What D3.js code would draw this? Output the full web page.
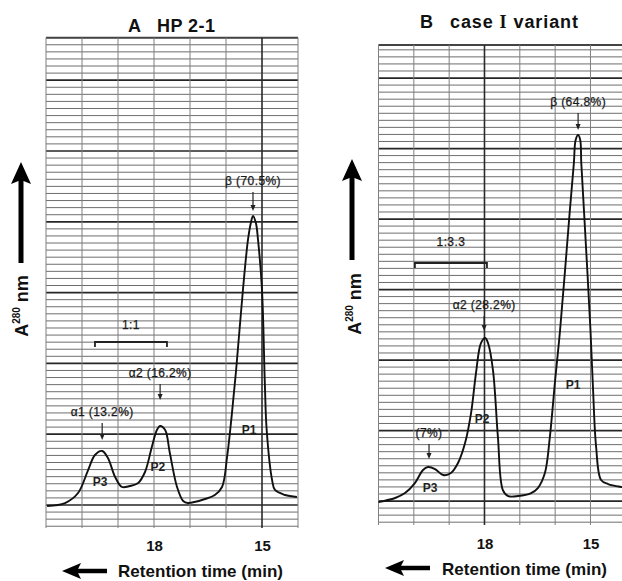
<!DOCTYPE html>
<html><head><meta charset="utf-8">
<script src="https://cdn.jsdelivr.net/npm/d3@7"></script>
<style>
html,body{margin:0;padding:0;background:#fff;}
svg{display:block;font-family:"Liberation Sans",Arial,Helvetica,sans-serif;}
</style></head><body>
<svg id="chart" width="622" height="581"></svg>
<script>
// ---------- data ----------
const panelLetters = ["A", "B"];
const panelNames = ["HP 2-1", "case I variant"];
const timeTicks = [18, 15];

// Panel A trace (retention time in min, absorbance in chart-paper divisions)
const traceATime = [20.97, 20.47, 20.11, 19.83, 19.64, 19.44, 19.28, 19.08, 18.89, 18.67, 18.44, 18.25, 18.06, 17.92, 17.83, 17.69, 17.56, 17.36, 17.19, 17.06, 16.58, 16.31, 16.11, 15.97, 15.85, 15.72, 15.53, 15.39, 15.31, 15.25, 15.17, 15.11, 15.00, 14.92, 14.87, 14.72, 14.64, 14.36, 14.03];
const traceAAbs  = [-0.14, 0.28, 1.69, 4.94, 7.06, 7.63, 6.64, 3.95, 2.54, 2.68, 3.11, 4.66, 8.19, 10.59, 11.16, 10.59, 7.34, 2.54, 0.56, 0.28, 0.85, 1.41, 2.54, 6.78, 12.2, 19.0, 30.37, 37.43, 39.83, 40.82, 39.83, 37.43, 30.37, 16.95, 10.59, 3.53, 2.12, 1.41, 1.13];

// Panel B trace
const traceBTime = [21.00, 20.53, 20.25, 19.97, 19.74, 19.60, 19.40, 19.17, 18.95, 18.75, 18.55, 18.38, 18.24, 18.10, 17.98, 17.90, 17.76, 17.62, 17.48, 17.33, 17.05, 16.68, 16.49, 16.29, 16.15, 16.00, 15.86, 15.59, 15.47, 15.42, 15.35, 15.29, 15.26, 15.18, 15.00, 14.93, 14.84, 14.70, 14.50, 14.13, 13.99];
const traceBAbs  = [-0.14, 0.43, 1.13, 2.55, 4.40, 4.82, 4.54, 3.69, 3.97, 5.39, 8.23, 12.48, 18.16, 22.41, 23.12, 22.41, 18.58, 9.08, 1.56, 0.71, 0.71, 1.13, 1.84, 3.97, 9.08, 17.16, 24.26, 40.85, 47.94, 51.21, 51.91, 51.21, 47.94, 40.85, 24.26, 16.17, 7.66, 2.98, 2.41, 1.99, 1.90];

// Peak names
const peakNames = ["P3", "P2", "P1"];
const peakNameTimeA = [19.50, 17.89, 15.36];
const peakNameAbsA  = [2.68, 4.80, 10.03];
const peakNameTimeB = [19.54, 18.07, 15.49];
const peakNameAbsB  = [1.28, 11.06, 15.89];

// Percent annotations with arrows (arrow top / tip in absorbance units)
const annotTextA = ["α1 (13.2%)", "α2 (16.2%)", "β (70.5%)"];
const annotTimeA = [19.44, 17.83, 15.25];
const annotTopA  = [11.58, 17.09, 44.21];
const annotTipA  = [9.18, 14.83, 41.53];
const annotTextB = ["(7%)", "α2 (28.2%)", "β (64.8%)"];
const annotTimeB = [19.57, 18.01, 15.35];
const annotTopB  = [8.09, 26.24, 55.04];
const annotTipB  = [5.96, 24.11, 52.62];

// Ratio brackets
const ratioText  = ["1:1", "1:3.3"];
const ratioStart = [19.64, 19.97];
const ratioEnd   = [17.64, 17.93];
const ratioAbs   = [23.02, 33.76];

// ---------- layout ----------
const panels = [
  { left: 46, right: 298, top: 37.7, bottom: 528, vMin: -3.25, vMax: 66, boldT: 15,
    time: traceATime, abs: traceAAbs, pTime: peakNameTimeA, pAbs: peakNameAbsA,
    aText: annotTextA, aTime: annotTimeA, aTop: annotTopA, aTip: annotTipA,
    titleLetterX: 128, titleNameX: 157, titleY: 32, titleNameLen: 58,
    yArrowX: 21, yArrowTip: 162, yArrowEnd: 263, yLabelX: 28, yLabelY: 306,
    tickY: 540, xArrowTip: 62, xArrowEnd: 107, xArrowY: 571, xLabelX: 118, xLabelY: 577 },
  { left: 378.5, right: 625.8, top: 44.9, bottom: 525, vMin: -3.4, vMax: 64.7, boldT: 18,
    time: traceBTime, abs: traceBAbs, pTime: peakNameTimeB, pAbs: peakNameAbsB,
    aText: annotTextB, aTime: annotTimeB, aTop: annotTopB, aTip: annotTipB,
    titleLetterX: 420, titleNameX: 450, titleY: 28, titleNameLen: 128,
    yArrowX: 352, yArrowTip: 159, yArrowEnd: 260, yLabelX: 361, yLabelY: 304,
    tickY: 538, xArrowTip: 385, xArrowEnd: 430, xArrowY: 568, xLabelX: 442, xLabelY: 575 }
];

const svg = d3.select("#chart");
svg.append("rect").attr("width", 622).attr("height", 581).attr("fill", "#fff");

panels.forEach((p, i) => {
  const x = d3.scaleLinear().domain([21, 14]).range([p.left, p.right]);
  const y = d3.scaleLinear().domain([p.vMin, p.vMax]).range([p.bottom, p.top]);
  const g = svg.append("g");

  // chart paper grid
  const grid = g.append("g");
  const hv = d3.range(Math.ceil(p.vMin), Math.floor(p.vMax) + 1);
  grid.selectAll("line.h").data(hv).join("line")
    .attr("x1", p.left).attr("x2", Math.min(p.right, 622))
    .attr("y1", d => y(d)).attr("y2", d => y(d))
    .attr("stroke", d => d % 10 === 0 ? "#262626" : "#6e6e6e")
    .attr("stroke-width", d => d % 10 === 0 ? 1.7 : 1);
  grid.append("line")
    .attr("x1", p.left).attr("x2", Math.min(p.right, 622))
    .attr("y1", y(p.vMax)).attr("y2", y(p.vMax))
    .attr("stroke", "#444").attr("stroke-width", 2);
  const tv = d3.range(21, 13, -1);
  grid.selectAll("line.v").data(tv).join("line")
    .attr("x1", d => x(d)).attr("x2", d => x(d))
    .attr("y1", y(p.vMax)).attr("y2", p.bottom)
    .attr("stroke", d => d === p.boldT ? "#2a2a2a" : "#7f7f7f")
    .attr("stroke-width", d => d === p.boldT ? 1.6 : 1);

  // trace
  const pts = p.time.map((t, k) => [t, p.abs[k]]);
  const line = d3.line().x(d => x(d[0])).y(d => y(d[1])).curve(d3.curveCatmullRom.alpha(0.5));
  g.append("path").attr("d", line(pts)).attr("fill", "none")
    .attr("stroke", "#111").attr("stroke-width", 1.9).attr("stroke-linejoin", "round");

  // peak names
  g.selectAll("text.pk").data(peakNames).join("text")
    .attr("x", (d, k) => x(p.pTime[k])).attr("y", (d, k) => y(p.pAbs[k]))
    .attr("text-anchor", "middle").attr("font-size", 12).attr("font-weight", "bold")
    .attr("fill", "#222").text(d => d);

  // percentage annotations
  p.aText.forEach((txt, k) => {
    const ax = x(p.aTime[k]);
    const yTop = y(p.aTop[k]), yTip = y(p.aTip[k]);
    g.append("line").attr("x1", ax).attr("x2", ax).attr("y1", yTop).attr("y2", yTip - 4)
      .attr("stroke", "#222").attr("stroke-width", 1.2);
    g.append("path").attr("d", `M${ax - 2.5},${yTip - 6}L${ax + 2.5},${yTip - 6}L${ax},${yTip}Z`)
      .attr("fill", "#222");
    g.append("text").attr("x", ax).attr("y", yTop - 7)
      .attr("text-anchor", "middle").attr("font-size", 12).attr("letter-spacing", 0.4)
      .attr("fill", "#1a1a1a").attr("stroke", "#1a1a1a").attr("stroke-width", 0.25).text(txt);
  });

  // ratio bracket
  const bx1 = x(ratioStart[i]), bx2 = x(ratioEnd[i]), by = y(ratioAbs[i]);
  g.append("path").attr("d", `M${bx1},${by + 5}V${by}H${bx2}V${by + 5}`)
    .attr("fill", "none").attr("stroke", "#222").attr("stroke-width", 1.8);
  g.append("text").attr("x", (bx1 + bx2) / 2).attr("y", by - (i === 0 ? 13 : 17))
    .attr("text-anchor", "middle").attr("font-size", 12).attr("letter-spacing", 0.4)
    .attr("fill", "#1a1a1a").attr("stroke", "#1a1a1a").attr("stroke-width", 0.25).text(ratioText[i]);

  // x axis tick labels
  const ax = d3.axisBottom(x).tickValues(timeTicks).tickSize(0).tickPadding(0).tickFormat(d3.format("d"));
  const axg = g.append("g").attr("transform", `translate(0,${p.tickY})`).call(ax);
  axg.select(".domain").remove();
  axg.selectAll("text").attr("font-size", 15).attr("font-weight", "bold")
    .attr("font-family", "Liberation Sans, Arial, sans-serif").attr("fill", "#111");

  // title
  g.append("text").attr("x", p.titleLetterX).attr("y", p.titleY)
    .attr("font-size", 18).attr("font-weight", "bold").attr("fill", "#111").text(panelLetters[i]);
  const tt = g.append("text").attr("x", p.titleNameX).attr("y", p.titleY)
    .attr("font-size", 18).attr("font-weight", "bold").attr("fill", "#111")
    .attr("textLength", p.titleNameLen).attr("lengthAdjust", "spacing");
  if (panelNames[i].includes(" I ")) {
    const parts = panelNames[i].split(" I ");
    tt.append("tspan").text(parts[0] + " ");
    tt.append("tspan").attr("font-family", "Liberation Serif, serif").text("I");
    tt.append("tspan").text(" " + parts[1]);
  } else {
    tt.text(panelNames[i]);
  }

  // y arrow
  g.append("line").attr("x1", p.yArrowX).attr("x2", p.yArrowX)
    .attr("y1", p.yArrowTip + 18).attr("y2", p.yArrowEnd)
    .attr("stroke", "#000").attr("stroke-width", 5);
  g.append("path")
    .attr("d", `M${p.yArrowX},${p.yArrowTip}L${p.yArrowX + 10},${p.yArrowTip + 22}L${p.yArrowX},${p.yArrowTip + 18}L${p.yArrowX - 10},${p.yArrowTip + 22}Z`)
    .attr("fill", "#000");
  const yl = g.append("text")
    .attr("transform", `translate(${p.yLabelX},${p.yLabelY}) rotate(-90)`)
    .attr("text-anchor", "middle").attr("font-size", 18).attr("font-weight", "bold").attr("fill", "#111");
  yl.append("tspan").text("A");
  yl.append("tspan").attr("font-size", 10).attr("dy", -8).text("280");
  yl.append("tspan").attr("dy", 8).text(" nm");

  // x arrow
  g.append("line").attr("x1", p.xArrowTip + 14).attr("x2", p.xArrowEnd)
    .attr("y1", p.xArrowY).attr("y2", p.xArrowY)
    .attr("stroke", "#000").attr("stroke-width", 4.5);
  g.append("path")
    .attr("d", `M${p.xArrowTip},${p.xArrowY}L${p.xArrowTip + 19},${p.xArrowY - 8}L${p.xArrowTip + 15},${p.xArrowY}L${p.xArrowTip + 19},${p.xArrowY + 8}Z`)
    .attr("fill", "#000");
  g.append("text").attr("x", p.xLabelX).attr("y", p.xLabelY)
    .attr("font-size", 17).attr("font-weight", "bold").attr("fill", "#111")
    .attr("textLength", 165).attr("lengthAdjust", "spacing")
    .text("Retention time (min)");
});
</script>
</body></html>
